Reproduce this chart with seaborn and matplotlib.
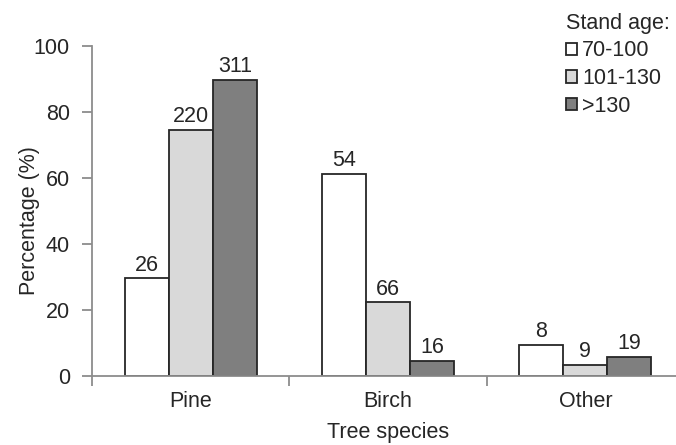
import matplotlib
matplotlib.use("Agg")
import matplotlib.pyplot as plt
import seaborn as sns
import pandas as pd

species = ["Pine", "Birch", "Other"]
ages = ["70-100", "101-130", ">130"]
pct_70_100 = [29.6, 61.2, 9.4]
pct_101_130 = [74.5, 22.3, 3.3]
pct_130 = [89.8, 4.6, 5.7]
n_70_100 = [26, 54, 8]
n_101_130 = [220, 66, 9]
n_130 = [311, 16, 19]
yticks = [0, 20, 40, 60, 80, 100]

sns.set_theme(style="white")
plt.rcParams["font.family"] = ["Liberation Sans", "DejaVu Sans"]

rows = []
for vals, age in zip([pct_70_100, pct_101_130, pct_130], ages):
    for sp, v in zip(species, vals):
        rows.append({"species": sp, "age": age, "pct": v})
df = pd.DataFrame(rows)

FS = 15.5
TXT = "#262626"

fig = plt.figure(figsize=(6.76, 4.45), dpi=100)
ax = fig.add_axes([92 / 676, (445 - 376) / 445, (684 - 92) / 676, (376 - 46) / 445])

palette = {"70-100": "#ffffff", "101-130": "#d9d9d9", ">130": "#7f7f7f"}
sns.barplot(data=df, x="species", y="pct", hue="age", order=species, hue_order=ages,
            palette=palette, width=0.67, gap=0, edgecolor="#262626", linewidth=1.3,
            saturation=1, ax=ax, errorbar=None)

for cont, counts in zip(ax.containers, [n_70_100, n_101_130, n_130]):
    ax.bar_label(cont, labels=[str(c) for c in counts], padding=2, fontsize=FS, color=TXT)

ax.set_xlim(-0.5, 2.5)
ax.set_ylim(0, 100)
ax.set_yticks(yticks)
ax.set_yticklabels([str(t) for t in yticks])
ax.set_xticks([-0.5, 0.5, 1.5, 2.5])
ax.set_xticklabels([])
ax.set_xticks([0, 1, 2], minor=True)
ax.set_xticklabels(species, minor=True)

spine_c = "#8c8c8c"
for s in ["top", "right"]:
    ax.spines[s].set_visible(False)
for s in ["left", "bottom"]:
    ax.spines[s].set_color(spine_c)
    ax.spines[s].set_linewidth(1.3)

ax.tick_params(axis="y", which="major", direction="out", length=7, width=1.3, color=spine_c,
               labelsize=FS, labelcolor=TXT, pad=9, left=True)
ax.tick_params(axis="x", which="major", direction="out", length=7, width=1.3, color=spine_c,
               bottom=True)
ax.tick_params(axis="x", which="minor", length=0, labelsize=FS, labelcolor=TXT, pad=11)

ax.set_xlabel("Tree species", fontsize=FS, color=TXT, labelpad=7)
ax.set_ylabel("Percentage (%)", fontsize=FS, color=TXT)
ax.yaxis.set_label_coords((40 - 92) / 592, (376 - 221) / 330)
ax.grid(False)

handles, labels = ax.get_legend_handles_labels()
ax.legend(handles, labels, title="Stand age:", loc="upper left",
          bbox_to_anchor=(555 / 676, 1 - 2 / 445), bbox_transform=fig.transFigure,
          frameon=False, fontsize=FS, title_fontsize=FS, handlelength=0.52, handleheight=0.52,
          handletextpad=0.23, labelspacing=0.31, alignment="left", borderpad=0.0,
          labelcolor=TXT)
leg = ax.get_legend()
leg.get_title().set_color(TXT)

fig.savefig("out.png", dpi=100)
